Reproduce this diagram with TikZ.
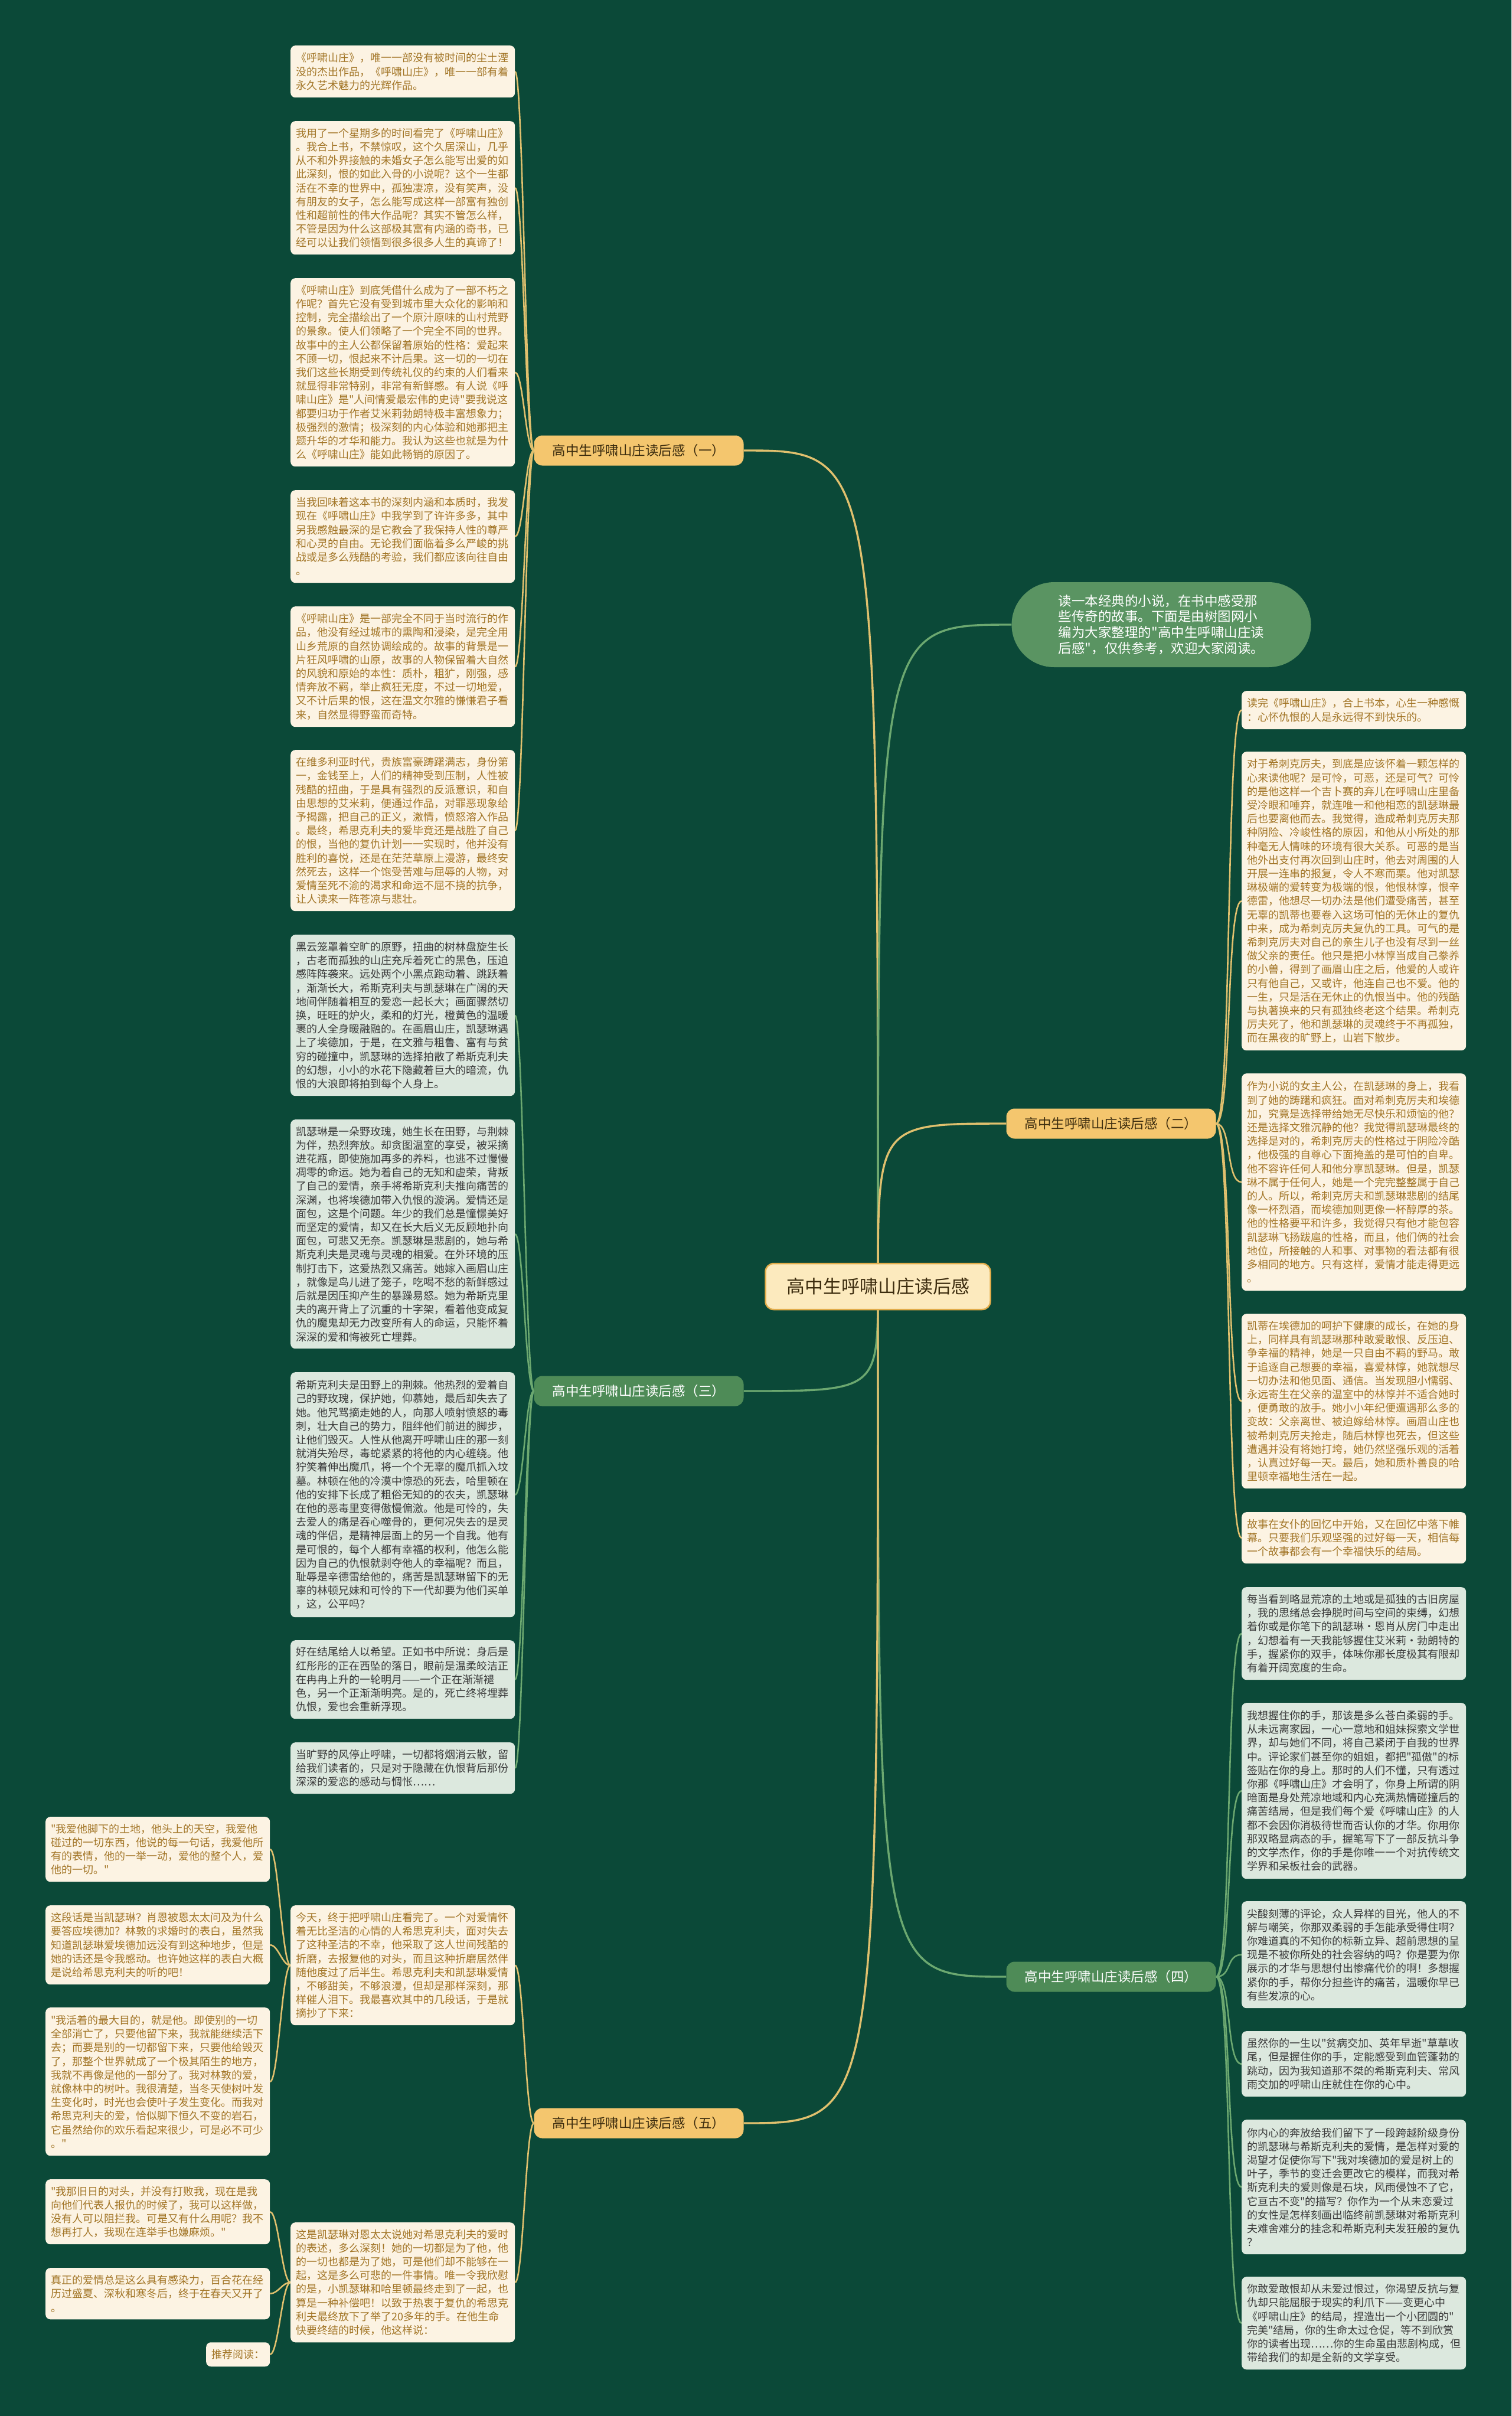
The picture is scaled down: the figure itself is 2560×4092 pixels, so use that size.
\documentclass[tikz,border=0pt]{standalone}
\usepackage{fontspec}
\newfontfamily\cjk{Noto Sans CJK SC}
\usetikzlibrary{calc}
\definecolor{bgc}{RGB}{11,73,56}
\definecolor{leafOfill}{RGB}{252,243,227}
\definecolor{leafOtext}{RGB}{162,117,38}
\definecolor{leafGfill}{RGB}{220,232,222}
\definecolor{leafGtext}{RGB}{58,58,58}
\definecolor{brO}{RGB}{244,198,110}
\definecolor{brOtext}{RGB}{60,44,14}
\definecolor{brG}{RGB}{78,139,87}
\definecolor{introG}{RGB}{90,148,98}
\definecolor{goldL}{RGB}{224,192,110}
\definecolor{greenL}{RGB}{108,168,112}
\definecolor{cfill}{RGB}{252,234,190}
\definecolor{cdraw}{RGB}{226,172,74}
\pgfdeclarelayer{bglayer}
\pgfdeclarelayer{linelayer}
\pgfsetlayers{bglayer,linelayer,main}
\tikzset{
  leafbase/.style={anchor=north west, rounded corners=8pt, minimum width=380pt, text width=362pt,
    inner xsep=9pt, inner ysep=0pt, align=left, font=\cjk\fontsize{18pt}{23.2pt}\selectfont},
  leafO/.style={leafbase, fill=leafOfill, text=leafOtext},
  leafG/.style={leafbase, fill=leafGfill, text=leafGtext},
  branchO/.style={fill=brO, text=brOtext, rounded corners=14pt, minimum width=355pt, minimum height=51pt,
    inner sep=0pt, font=\cjk\fontsize{22.5pt}{26pt}\selectfont},
  branchG/.style={fill=brG, text=white, rounded corners=14pt, minimum width=355pt, minimum height=51pt,
    inner sep=0pt, font=\cjk\fontsize{22.5pt}{26pt}\selectfont},
  goldline/.style={draw=goldL, line width=2.6pt},
  greenline/.style={draw=greenL, line width=2.6pt},
  goldmain/.style={draw=goldL, line width=3.4pt},
  greenmain/.style={draw=greenL, line width=3.4pt},
}
\newcommand\linkLeft[3]{\draw[#1] (#2.west) .. controls +(-14pt,0pt) and +(14pt,0pt) .. (#3.east);}
\newcommand\linkRight[3]{\draw[#1] (#2.east) .. controls +(27pt,0pt) and +(-27pt,0pt) .. (#3.west);}
\begin{document}
\begin{tikzpicture}[x=1pt,y=-1pt]
\begin{pgfonlayer}{bglayer}
\fill[bgc] (0,0) rectangle (2560,4092);
\end{pgfonlayer}
\useasboundingbox (0,0) rectangle (2560,4092);

% center and intro
\node[fill=cfill, draw=cdraw, line width=2.5pt, rounded corners=14pt, minimum width=381pt, minimum height=78pt,
  inner sep=0pt, text=brOtext, font=\cjk\fontsize{31pt}{36pt}\selectfont] (C) at (1487,2179) {高中生呼啸山庄读后感};
\node[fill=introG, text=white, rounded corners=72pt, minimum width=507pt, minimum height=144pt, inner sep=0pt,
  align=left, font=\cjk\fontsize{22.5pt}{26.7pt}\selectfont] (I) at (1967,1058)
  {读一本经典的小说，在书中感受那\\些传奇的故事。下面是由树图网小\\编为大家整理的"高中生呼啸山庄读\\后感"，仅供参考，欢迎大家阅读。};

% branches
\node[branchO] (B1) at (1082,763) {高中生呼啸山庄读后感（一）};
\node[branchO] (B2) at (1882,1903) {高中生呼啸山庄读后感（二）};
\node[branchG] (B3) at (1082,2356) {高中生呼啸山庄读后感（三）};
\node[branchG] (B4) at (1882,3348) {高中生呼啸山庄读后感（四）};
\node[branchO] (B5) at (1082,3596) {高中生呼啸山庄读后感（五）};

% branch 1 leaves
\node[leafO, minimum height=88pt] (a1) at (492,77) {《呼啸山庄》，唯一一部没有被时间的尘土湮\\没的杰出作品，《呼啸山庄》，唯一一部有着\\永久艺术魅力的光辉作品。};
\node[leafO, minimum height=226pt] (a2) at (492,205) {我用了一个星期多的时间看完了《呼啸山庄》\\。我合上书，不禁惊叹，这个久居深山，几乎\\从不和外界接触的未婚女子怎么能写出爱的如\\此深刻，恨的如此入骨的小说呢？这个一生都\\活在不幸的世界中，孤独凄凉，没有笑声，没\\有朋友的女子，怎么能写成这样一部富有独创\\性和超前性的伟大作品呢？其实不管怎么样，\\不管是因为什么这部极其富有内涵的奇书，已\\经可以让我们领悟到很多很多人生的真谛了！};
\node[leafO, minimum height=319pt] (a3) at (492,471) {《呼啸山庄》到底凭借什么成为了一部不朽之\\作呢？首先它没有受到城市里大众化的影响和\\控制，完全描绘出了一个原汁原味的山村荒野\\的景象。使人们领略了一个完全不同的世界。\\故事中的主人公都保留着原始的性格：爱起来\\不顾一切，恨起来不计后果。这一切的一切在\\我们这些长期受到传统礼仪的约束的人们看来\\就显得非常特别，非常有新鲜感。有人说《呼\\啸山庄》是"人间情爱最宏伟的史诗"要我说这\\都要归功于作者艾米莉勃朗特极丰富想象力；\\极强烈的激情；极深刻的内心体验和她那把主\\题升华的才华和能力。我认为这些也就是为什\\么《呼啸山庄》能如此畅销的原因了。};
\node[leafO, minimum height=157pt] (a4) at (492,830) {当我回味着这本书的深刻内涵和本质时，我发\\现在《呼啸山庄》中我学到了许许多多，其中\\另我感触最深的是它教会了我保持人性的尊严\\和心灵的自由。无论我们面临着多么严峻的挑\\战或是多么残酷的考验，我们都应该向往自由\\。};
\node[leafO, minimum height=204pt] (a5) at (492,1027) {《呼啸山庄》是一部完全不同于当时流行的作\\品，他没有经过城市的熏陶和浸染，是完全用\\山乡荒原的自然协调绘成的。故事的背景是一\\片狂风呼啸的山原，故事的人物保留着大自然\\的风貌和原始的本性：质朴，粗犷，刚强，感\\情奔放不羁，举止疯狂无度，不过一切地爱，\\又不计后果的恨，这在温文尔雅的慊慊君子看\\来，自然显得野蛮而奇特。};
\node[leafO, minimum height=273pt] (a6) at (492,1270) {在维多利亚时代，贵族富豪踌躇满志，身份第\\一，金钱至上，人们的精神受到压制，人性被\\残酷的扭曲，于是具有强烈的反派意识，和自\\由思想的艾米莉，便通过作品，对罪恶现象给\\予揭露，把自己的正义，激情，愤怒溶入作品\\。最终，希思克利夫的爱毕竟还是战胜了自己\\的恨，当他的复仇计划一一实现时，他并没有\\胜利的喜悦，还是在茫茫草原上漫游，最终安\\然死去，这样一个饱受苦难与屈辱的人物，对\\爱情至死不渝的渴求和命运不屈不挠的抗争，\\让人读来一阵苍凉与悲壮。};

% branch 3 leaves
\node[leafG, minimum height=273pt] (c1) at (492,1583) {黑云笼罩着空旷的原野，扭曲的树林盘旋生长\\，古老而孤独的山庄充斥着死亡的黑色，压迫\\感阵阵袭来。远处两个小黑点跑动着、跳跃着\\，渐渐长大，希斯克利夫与凯瑟琳在广阔的天\\地间伴随着相互的爱恋一起长大；画面骤然切\\换，旺旺的炉火，柔和的灯光，橙黄色的温暖\\裹的人全身暖融融的。在画眉山庄，凯瑟琳遇\\上了埃德加，于是，在文雅与粗鲁、富有与贫\\穷的碰撞中，凯瑟琳的选择拍散了希斯克利夫\\的幻想，小小的水花下隐藏着巨大的暗流，仇\\恨的大浪即将拍到每个人身上。};
\node[leafG, minimum height=388pt] (c2) at (492,1896) {凯瑟琳是一朵野玫瑰，她生长在田野，与荆棘\\为伴，热烈奔放。却贪图温室的享受，被采摘\\进花瓶，即使施加再多的养料，也逃不过慢慢\\凋零的命运。她为着自己的无知和虚荣，背叛\\了自己的爱情，亲手将希斯克利夫推向痛苦的\\深渊，也将埃德加带入仇恨的漩涡。爱情还是\\面包，这是个问题。年少的我们总是憧憬美好\\而坚定的爱情，却又在长大后义无反顾地扑向\\面包，可悲又无奈。凯瑟琳是悲剧的，她与希\\斯克利夫是灵魂与灵魂的相爱。在外环境的压\\制打击下，这爱热烈又痛苦。她嫁入画眉山庄\\，就像是鸟儿进了笼子，吃喝不愁的新鲜感过\\后就是因压抑产生的暴躁易怒。她为希斯克里\\夫的离开背上了沉重的十字架，看着他变成复\\仇的魔鬼却无力改变所有人的命运，只能怀着\\深深的爱和悔被死亡埋葬。};
\node[leafG, minimum height=415pt] (c3) at (492,2324) {希斯克利夫是田野上的荆棘。他热烈的爱着自\\己的野玫瑰，保护她，仰慕她，最后却失去了\\她。他咒骂摘走她的人，向那人喷射愤怒的毒\\刺，壮大自己的势力，阻绊他们前进的脚步，\\让他们毁灭。人性从他离开呼啸山庄的那一刻\\就消失殆尽，毒蛇紧紧的将他的内心缠绕。他\\狞笑着伸出魔爪，将一个个无辜的魔爪抓入坟\\墓。林顿在他的冷漠中惊恐的死去，哈里顿在\\他的安排下长成了粗俗无知的的农夫，凯瑟琳\\在他的恶毒里变得傲慢偏激。他是可怜的，失\\去爱人的痛是吞心噬骨的，更何况失去的是灵\\魂的伴侣，是精神层面上的另一个自我。他有\\是可恨的，每个人都有幸福的权利，他怎么能\\因为自己的仇恨就剥夺他人的幸福呢？而且，\\耻辱是辛德雷给他的，痛苦是凯瑟琳留下的无\\辜的林顿兄妹和可怜的下一代却要为他们买单\\，这，公平吗？};
\node[leafG, minimum height=133pt] (c4) at (492,2778) {好在结尾给人以希望。正如书中所说：身后是\\红彤彤的正在西坠的落日，眼前是温柔皎洁正\\在冉冉上升的一轮明月——一个正在渐渐褪\\色，另一个正渐渐明亮。是的，死亡终将埋葬\\仇恨，爱也会重新浮现。};
\node[leafG, minimum height=87pt] (c5) at (492,2951) {当旷野的风停止呼啸，一切都将烟消云散，留\\给我们读者的，只是对于隐藏在仇恨背后那份\\深深的爱恋的感动与惆怅……};

% branch 2 leaves
\node[leafO, minimum height=65pt] (b1) at (2103,1170) {读完《呼啸山庄》，合上书本，心生一种感慨\\：心怀仇恨的人是永远得不到快乐的。};
\node[leafO, minimum height=506pt] (b2) at (2103,1273) {对于希刺克厉夫，到底是应该怀着一颗怎样的\\心来读他呢？是可怜，可恶，还是可气？可怜\\的是他这样一个吉卜赛的弃儿在呼啸山庄里备\\受冷眼和唾弃，就连唯一和他相恋的凯瑟琳最\\后也要离他而去。我觉得，造成希刺克厉夫那\\种阴险、冷峻性格的原因，和他从小所处的那\\种毫无人情味的环境有很大关系。可恶的是当\\他外出支付再次回到山庄时，他去对周围的人\\开展一连串的报复，令人不寒而栗。他对凯瑟\\琳极端的爱转变为极端的恨，他恨林惇，恨辛\\德雷，他想尽一切办法是他们遭受痛苦，甚至\\无辜的凯蒂也要卷入这场可怕的无休止的复仇\\中来，成为希刺克厉夫复仇的工具。可气的是\\希刺克厉夫对自己的亲生儿子也没有尽到一丝\\做父亲的责任。他只是把小林惇当成自己豢养\\的小兽，得到了画眉山庄之后，他爱的人或许\\只有他自己，又或许，他连自己也不爱。他的\\一生，只是活在无休止的仇恨当中。他的残酷\\与执著换来的只有孤独终老这个结果。希刺克\\厉夫死了，他和凯瑟琳的灵魂终于不再孤独，\\而在黑夜的旷野上，山岩下散步。};
\node[leafO, minimum height=368pt] (b3) at (2103,1818) {作为小说的女主人公，在凯瑟琳的身上，我看\\到了她的踌躇和疯狂。面对希刺克厉夫和埃德\\加，究竟是选择带给她无尽快乐和烦恼的他？\\还是选择文雅沉静的他？我觉得凯瑟琳最终的\\选择是对的，希刺克厉夫的性格过于阴险冷酷\\，他极强的自尊心下面掩盖的是可怕的自卑。\\他不容许任何人和他分享凯瑟琳。但是，凯瑟\\琳不属于任何人，她是一个完完整整属于自己\\的人。所以，希刺克厉夫和凯瑟琳悲剧的结尾\\像一杯烈酒，而埃德加则更像一杯醇厚的茶。\\他的性格要平和许多，我觉得只有他才能包容\\凯瑟琳飞扬跋扈的性格，而且，他们俩的社会\\地位，所接触的人和事、对事物的看法都有很\\多相同的地方。只有这样，爱情才能走得更远\\。};
\node[leafO, minimum height=296pt] (b4) at (2103,2225) {凯蒂在埃德加的呵护下健康的成长，在她的身\\上，同样具有凯瑟琳那种敢爱敢恨、反压迫、\\争幸福的精神，她是一只自由不羁的野马。敢\\于追逐自己想要的幸福，喜爱林惇，她就想尽\\一切办法和他见面、通信。当发现胆小懦弱、\\永远寄生在父亲的温室中的林惇并不适合她时\\，便勇敢的放手。她小小年纪便遭遇那么多的\\变故：父亲离世、被迫嫁给林惇。画眉山庄也\\被希刺克厉夫抢走，随后林惇也死去，但这些\\遭遇并没有将她打垮，她仍然坚强乐观的活着\\，认真过好每一天。最后，她和质朴善良的哈\\里顿幸福地生活在一起。};
\node[leafO, minimum height=87pt] (b5) at (2103,2561) {故事在女仆的回忆中开始，又在回忆中落下帷\\幕。只要我们乐观坚强的过好每一天，相信每\\一个故事都会有一个幸福快乐的结局。};

% branch 4 leaves
\node[leafG, minimum height=157pt] (d1) at (2103,2688) {每当看到略显荒凉的土地或是孤独的古旧房屋\\，我的思绪总会挣脱时间与空间的束缚，幻想\\着你或是你笔下的凯瑟琳·恩肖从房门中走出\\，幻想着有一天我能够握住艾米莉·勃朗特的\\手，握紧你的双手，体味你那长度极其有限却\\有着开阔宽度的生命。};
\node[leafG, minimum height=298pt] (d2) at (2103,2884) {我想握住你的手，那该是多么苍白柔弱的手。\\从未远离家园，一心一意地和姐妹探索文学世\\界，却与她们不同，将自己紧闭于自我的世界\\中。评论家们甚至你的姐姐，都把"孤傲"的标\\签贴在你的身上。那时的人们不懂，只有透过\\你那《呼啸山庄》才会明了，你身上所谓的阴\\暗面是身处荒凉地域和内心充满热情碰撞后的\\痛苦结局，但是我们每个爱《呼啸山庄》的人\\都不会因你消极待世而否认你的才华。你用你\\那双略显病态的手，握笔写下了一部反抗斗争\\的文学杰作，你的手是你唯一一个对抗传统文\\学界和呆板社会的武器。};
\node[leafG, minimum height=181pt] (d3) at (2103,3220) {尖酸刻薄的评论，众人异样的目光，他人的不\\解与嘲笑，你那双柔弱的手怎能承受得住啊？\\你难道真的不知你的标新立异、超前思想的呈\\现是不被你所处的社会容纳的吗？你是要为你\\展示的才华与思想付出惨痛代价的啊！多想握\\紧你的手，帮你分担些许的痛苦，温暖你早已\\有些发凉的心。};
\node[leafG, minimum height=111pt] (d4) at (2103,3440) {虽然你的一生以"贫病交加、英年早逝"草草收\\尾，但是握住你的手，定能感受到血管蓬勃的\\跳动，因为我知道那不桀的希斯克利夫、常风\\雨交加的呼啸山庄就住在你的心中。};
\node[leafG, minimum height=228pt] (d5) at (2103,3590) {你内心的奔放给我们留下了一段跨越阶级身份\\的凯瑟琳与希斯克利夫的爱情，是怎样对爱的\\渴望才促使你写下"我对埃德加的爱是树上的\\叶子，季节的变迁会更改它的模样，而我对希\\斯克利夫的爱则像是石块，风雨侵蚀不了它，\\它亘古不变"的描写？你作为一个从未恋爱过\\的女性是怎样刻画出临终前凯瑟琳对希斯克利\\夫难舍难分的挂念和希斯克利夫发狂般的复仇\\？};
\node[leafG, minimum height=157pt] (d6) at (2103,3856) {你敢爱敢恨却从未爱过恨过，你渴望反抗与复\\仇却只能屈服于现实的利爪下——变更心中\\《呼啸山庄》的结局，捏造出一个小团圆的"\\完美"结局，你的生命太过仓促，等不到欣赏\\你的读者出现……你的生命虽由悲剧构成，但\\带给我们的却是全新的文学享受。};

% branch 5
\node[leafO, minimum height=203pt] (m1) at (492,3227) {今天，终于把呼啸山庄看完了。一个对爱情怀\\着无比圣洁的心情的人希思克利夫，面对失去\\了这种圣洁的不幸，他采取了这人世间残酷的\\折磨，去报复他的对头，而且这种折磨居然伴\\随他度过了后半生。希思克利夫和凯瑟琳爱情\\，不够甜美，不够浪漫，但却是那样深刻，那\\样催人泪下。我最喜欢其中的几段话，于是就\\摘抄了下来：};
\node[leafO, minimum height=203pt] (m2) at (492,3764) {这是凯瑟琳对恩太太说她对希思克利夫的爱时\\的表述，多么深刻！她的一切都是为了他，他\\的一切也都是为了她，可是他们却不能够在一\\起，这是多么可悲的一件事情。唯一令我欣慰\\的是，小凯瑟琳和哈里顿最终走到了一起，也\\算是一种补偿吧！以致于热衷于复仇的希思克\\利夫最终放下了举了20多年的手。在他生命\\快要终结的时候，他这样说：};
\node[leafO, minimum height=110pt] (l1) at (77,3077) {"我爱他脚下的土地，他头上的天空，我爱他\\碰过的一切东西，他说的每一句话，我爱他所\\有的表情，他的一举一动，爱他的整个人，爱\\他的一切。"};
\node[leafO, minimum height=134pt] (l2) at (77,3227) {这段话是当凯瑟琳？肖恩被恩太太问及为什么\\要答应埃德加？林敦的求婚时的表白，虽然我\\知道凯瑟琳爱埃德加远没有到这种地步，但是\\她的话还是令我感动。也许她这样的表白大概\\是说给希思克利夫的听的吧！};
\node[leafO, minimum height=251pt] (l3) at (77,3400) {"我活着的最大目的，就是他。即使别的一切\\全部消亡了，只要他留下来，我就能继续活下\\去；而要是别的一切都留下来，只要他给毁灭\\了，那整个世界就成了一个极其陌生的地方，\\我就不再像是他的一部分了。我对林敦的爱，\\就像林中的树叶。我很清楚，当冬天使树叶发\\生变化时，时光也会使叶子发生变化。而我对\\希思克利夫的爱，恰似脚下恒久不变的岩石，\\它虽然给你的欢乐看起来很少，可是必不可少\\。"};
\node[leafO, minimum height=110pt] (l4) at (77,3691) {"我那旧日的对头，并没有打败我，现在是我\\向他们代表人报仇的时候了，我可以这样做，\\没有人可以阻拦我。可是又有什么用呢？我不\\想再打人，我现在连举手也嫌麻烦。"};
\node[leafO, minimum height=87pt] (l5) at (77,3841) {真正的爱情总是这么具有感染力，百合花在经\\历过盛夏、深秋和寒冬后，终于在春天又开了\\。};
\node[leafO, minimum height=41pt, minimum width=108pt, text width=90pt] (l6) at (349,3967) {推荐阅读：};

\begin{pgfonlayer}{linelayer}
% center to branches
\draw[goldmain] (C.center) .. controls (C.center |- B1.east) .. (B1.east);
\draw[greenmain] (C.center) .. controls (C.center |- I.west) .. (I.west);
\draw[goldmain] (C.center) .. controls (C.center |- B2.west) .. (B2.west);
\draw[greenmain] (C.center) .. controls (C.center |- B3.east) .. (B3.east);
\draw[greenmain] (C.center) .. controls (C.center |- B4.west) .. (B4.west);
\draw[goldmain] (C.center) .. controls (C.center |- B5.east) .. (B5.east);
% leaves
\foreach \n in {a1,a2,a3,a4,a5,a6}{\linkLeft{goldline}{B1}{\n}}
\foreach \n in {c1,c2,c3,c4,c5}{\linkLeft{greenline}{B3}{\n}}
\foreach \n in {m1,m2}{\linkLeft{goldline}{B5}{\n}}
\foreach \n in {l1,l2,l3}{\linkLeft{goldline}{m1}{\n}}
\foreach \n in {l4,l5,l6}{\linkLeft{goldline}{m2}{\n}}
\foreach \n in {b1,b2,b3,b4,b5}{\linkRight{goldline}{B2}{\n}}
\foreach \n in {d1,d2,d3,d4,d5,d6}{\linkRight{greenline}{B4}{\n}}
\end{pgfonlayer}
\end{tikzpicture}
\end{document}
